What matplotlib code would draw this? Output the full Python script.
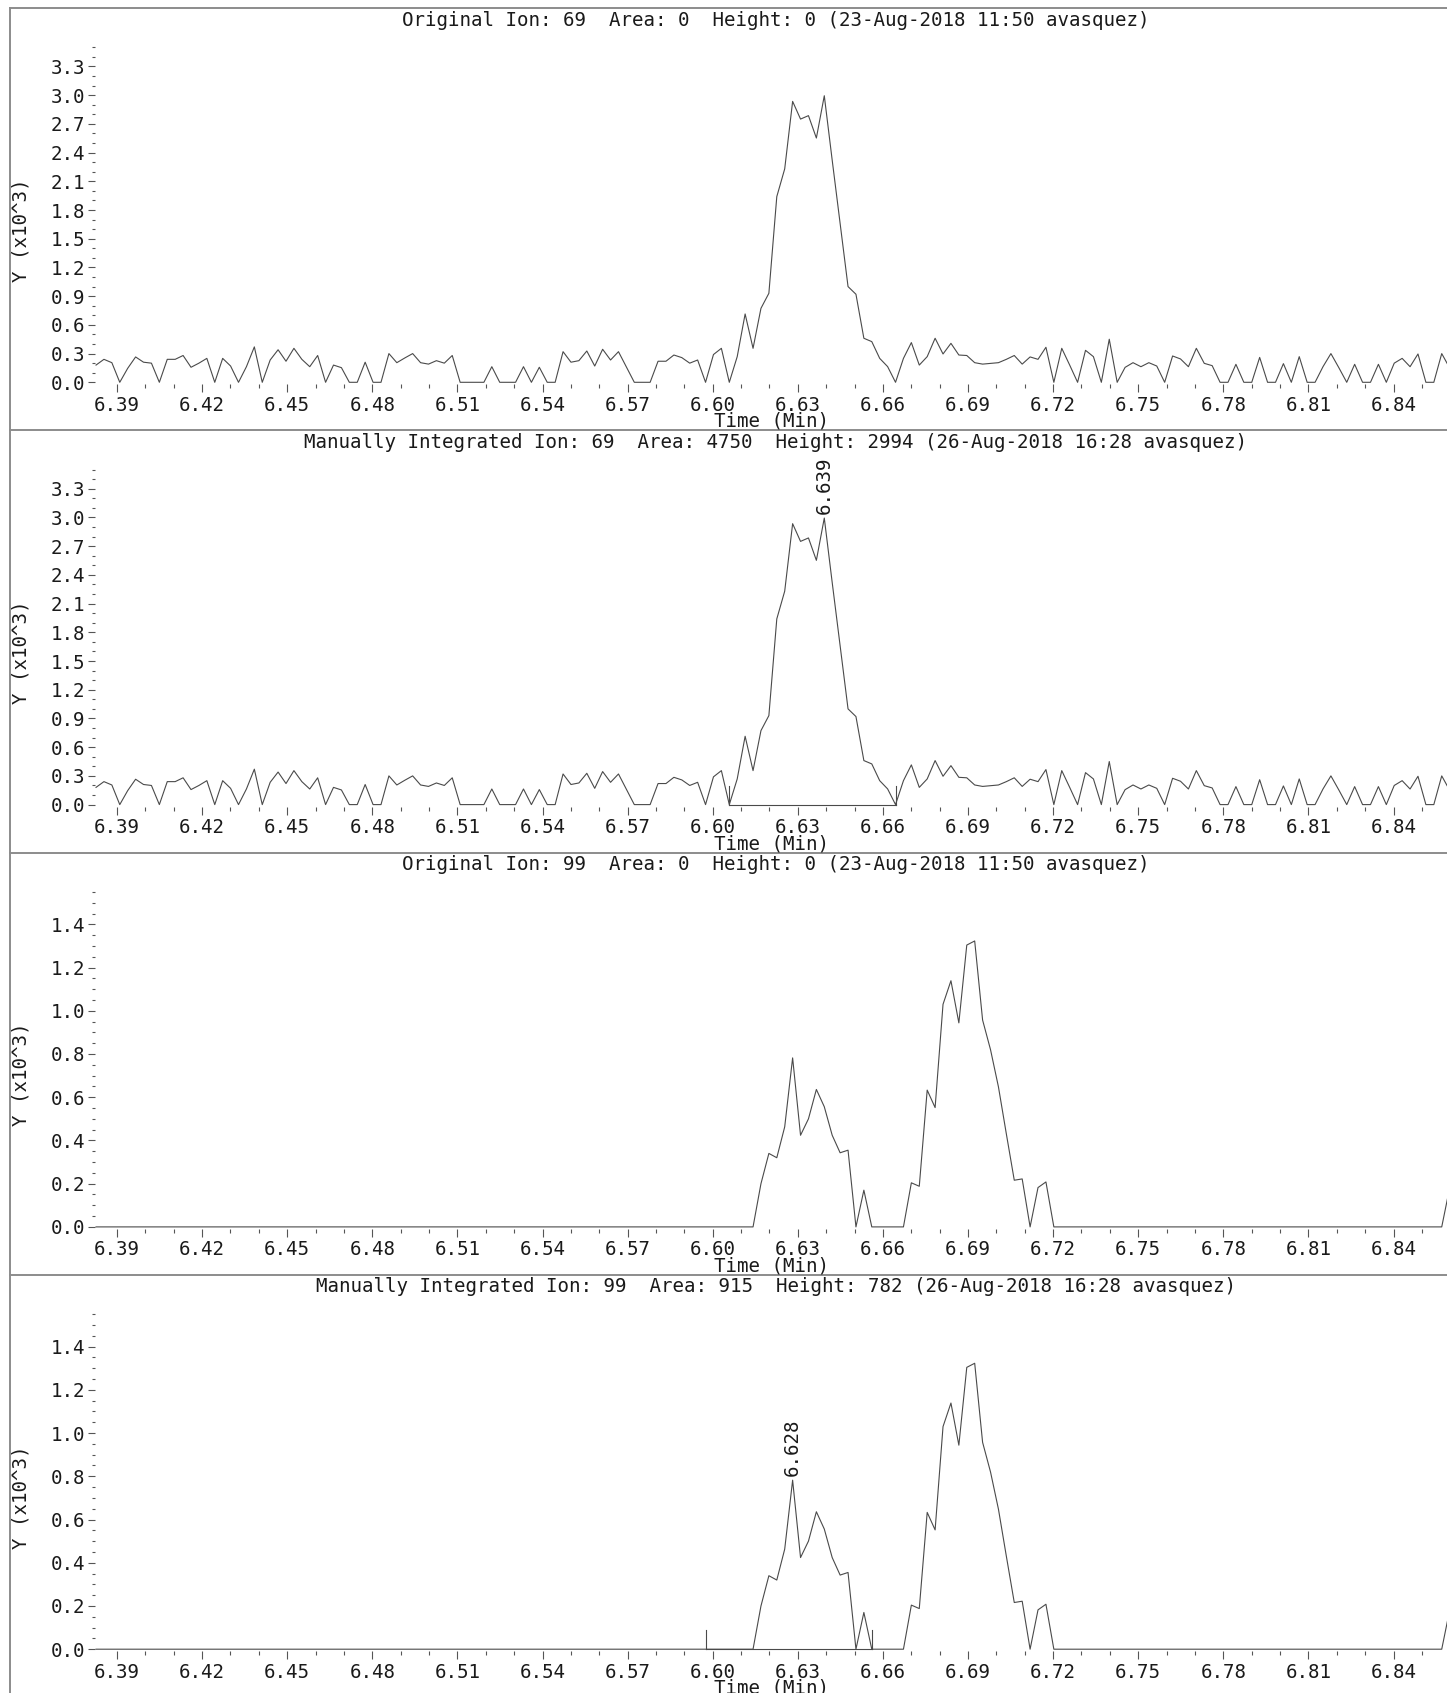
import numpy as np
import matplotlib
matplotlib.use("Agg")
import matplotlib.pyplot as plt
from matplotlib.ticker import MultipleLocator, FormatStrFormatter
from matplotlib.lines import Line2D

plt.rcParams['font.family'] = 'DejaVu Sans Mono'

# scan grid (min)
SCAN_START = 6.3826
SCAN_STEP = 0.0027906

# ion 69 abundance (x10^3), one value per scan
ion69 = [0.18, 0.24, 0.205, 0.0, 0.146, 0.265, 0.21, 0.2, 0.0, 0.24,
         0.24, 0.28, 0.157, 0.2, 0.25, 0.0, 0.25, 0.17, 0.0, 0.163,
         0.37, 0.0, 0.233, 0.34, 0.22, 0.355, 0.24, 0.163, 0.28, 0.0,
         0.18, 0.153, 0.0, 0.0, 0.21, 0.0, 0.0, 0.3, 0.205, 0.254,
         0.3, 0.205, 0.19, 0.226, 0.2, 0.28, 0.0, 0.0, 0.0, 0.0,
         0.163, 0.0, 0.0, 0.0, 0.163, 0.0, 0.157, 0.0, 0.0, 0.32,
         0.21, 0.226, 0.327, 0.17, 0.345, 0.233, 0.32, 0.16, 0.0, 0.0,
         0.0, 0.22, 0.22, 0.285, 0.258, 0.2, 0.233, 0.0, 0.29, 0.355,
         0.0, 0.268, 0.714, 0.355, 0.773, 0.93, 1.94, 2.23, 2.935, 2.75,
         2.786, 2.552, 2.994, 2.32, 1.66, 1.0, 0.92, 0.46, 0.425, 0.25,
         0.164, 0.0, 0.25, 0.415, 0.18, 0.268, 0.46, 0.296, 0.407, 0.285,
         0.28, 0.205, 0.19, 0.198, 0.205, 0.24, 0.28, 0.19, 0.265, 0.24,
         0.366, 0.0, 0.355, 0.18, 0.0, 0.334, 0.268, 0.0, 0.45, 0.0,
         0.156, 0.205, 0.163, 0.205, 0.17, 0.0, 0.275, 0.244, 0.163, 0.355,
         0.198, 0.174, 0.0, 0.0, 0.188, 0.0, 0.0, 0.26, 0.0, 0.0,
         0.195, 0.0, 0.268, 0.0, 0.0, 0.163, 0.3, 0.153, 0.0, 0.188,
         0.0, 0.0, 0.188, 0.0, 0.2, 0.25, 0.163, 0.296, 0.0, 0.0,
         0.3, 0.15]

# ion 99 abundance (x10^3)
ion99 = ([0.0] * 84 +
         [0.2, 0.34, 0.32, 0.463, 0.782, 0.424, 0.50, 0.636, 0.556, 0.424,
          0.343, 0.355, 0.0, 0.17, 0.0, 0.0, 0.0, 0.0, 0.0, 0.204,
          0.188, 0.633, 0.552, 1.03, 1.139, 0.944, 1.304, 1.323, 0.957, 0.82,
          0.648, 0.43, 0.216, 0.222, 0.0, 0.182, 0.208] +
         [0.0] * 50 + [0.18])

titles = [
    "Original Ion: 69  Area: 0  Height: 0 (23-Aug-2018 11:50 avasquez)",
    "Manually Integrated Ion: 69  Area: 4750  Height: 2994 (26-Aug-2018 16:28 avasquez)",
    "Original Ion: 99  Area: 0  Height: 0 (23-Aug-2018 11:50 avasquez)",
    "Manually Integrated Ion: 99  Area: 915  Height: 782 (26-Aug-2018 16:28 avasquez)",
]
# manual integration: (start scan, end scan, apex scan, apex label)
integrations = [None, (80, 101, 92, "6.639"), None, (77, 98, 88, "6.628")]

t = SCAN_START + SCAN_STEP * np.arange(len(ion69))

W, H = 1447, 1693
fig = plt.figure(figsize=(W / 100, H / 100), dpi=100)
fig.patch.set_facecolor('white')

TXT = '#1a1a1a'
LINE = '#4a4a4a'
TICK = '#555555'
FS = 13.8
STEP = 422.3


def px_axes(left, top, width, height):
    return fig.add_axes([left / W, 1 - (top + height) / H, width / W, height / H])


# left border
fig.add_artist(Line2D([10 / W, 10 / W], [1 - 8 / H, 0], color='#8c8c8c', lw=1.4))

for k in range(4):
    sep = 8 + k * STEP
    zero = 382.3 + k * STEP
    y = ion69 if k < 2 else ion99
    ymax, maj, mnr = (3.5, 0.3, 0.1) if k < 2 else (1.55, 0.2, 0.05)

    fig.add_artist(Line2D([10 / W, 1], [1 - sep / H] * 2, color='#8c8c8c', lw=1.4))

    ax = px_axes(95, zero - 335, 1352, 337)
    ax.set_xlim(6.38224, 6.85886)
    ax.set_ylim(-2 * ymax / 335, ymax + 1e-6)
    for s in ax.spines.values():
        s.set_visible(False)
    ax.patch.set_alpha(0)

    ax.plot(t, y, color=LINE, lw=0.8)

    ax.xaxis.set_major_locator(MultipleLocator(0.03))
    ax.xaxis.set_minor_locator(MultipleLocator(0.01))
    ax.xaxis.set_major_formatter(FormatStrFormatter('%.2f'))
    ax.yaxis.set_major_locator(MultipleLocator(maj))
    ax.yaxis.set_minor_locator(MultipleLocator(mnr))
    ax.yaxis.set_major_formatter(FormatStrFormatter('%.1f'))

    ax.tick_params(axis='x', which='major', direction='out', length=5.8, width=0.8,
                   color=TICK, labelsize=FS, labelcolor=TXT, pad=2.5)
    ax.tick_params(axis='x', which='minor', direction='out', length=2.9, width=0.8, color=TICK)
    ax.tick_params(axis='y', which='major', direction='out', length=5, width=0.8,
                   color=TICK, labelsize=FS, labelcolor=TXT, pad=2)
    ax.tick_params(axis='y', which='minor', direction='out', length=2.2, width=0.8, color=TICK)

    integ = integrations[k]
    if integ is not None:
        s0, s1, apex, lab = integ
        mark = 19 * ymax / 335
        ax.plot([t[s0], t[s1]], [0, 0], color=LINE, lw=0.8)
        ax.plot([t[s0], t[s0]], [0, mark], color=LINE, lw=0.8)
        ax.plot([t[s1], t[s1]], [0, mark], color=LINE, lw=0.8)
        ax.annotate(lab, xy=(t[apex], y[apex]), xytext=(0, 3), textcoords='offset points',
                    rotation=90, ha='center', va='bottom', fontsize=FS, color=TXT,
                    annotation_clip=False)

    fig.text(776 / W, 1 - (sep + 12) / H, titles[k], ha='center', va='center',
             fontsize=FS, color=TXT)
    fig.text(771 / W, 1 - (zero + 39) / H, "Time (Min)", ha='center', va='center',
             fontsize=FS, color=TXT)
    fig.text(21 / W, 1 - (sep + 222) / H, "Y (x10^3)", ha='center', va='center',
             rotation=90, fontsize=FS, color=TXT)

fig.savefig("out.png", dpi=100, facecolor='white')
